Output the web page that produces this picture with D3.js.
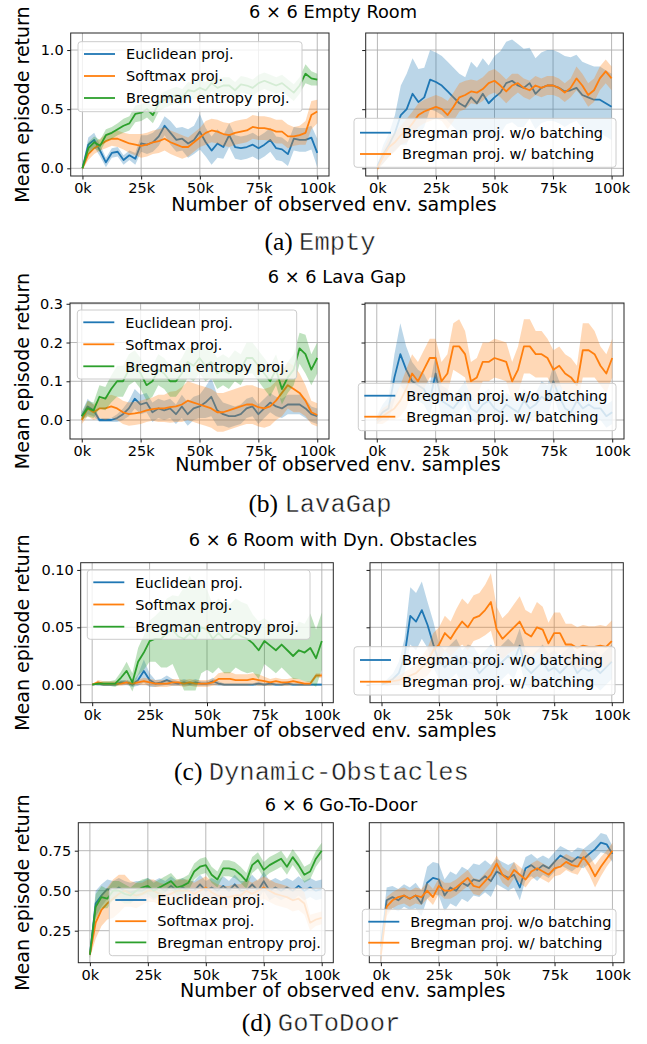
<!DOCTYPE html>
<html>
<head>
<meta charset="utf-8">
<script src="https://cdn.jsdelivr.net/npm/d3@7"></script>
<style>
  body { margin: 0; background: #fff; }
  svg { display: block; }
</style>
</head>
<body>
<svg id="fig" width="647" height="1044"></svg>
<script>
// observed env. samples (k)
var steps = [0, 2.5, 5, 7.5, 10, 12.5, 15, 17.5, 20, 22.5, 25, 27.5, 30, 32.5, 35, 37.5, 40,
  42.5, 45, 47.5, 50, 52.5, 55, 57.5, 60, 62.5, 65, 67.5, 70, 72.5, 75, 77.5, 80, 82.5,
  85, 87.5, 90, 92.5, 95, 97.5, 100];
var xTicks = [0, 25, 50, 75, 100];

var leftNames = ['Euclidean proj.', 'Softmax proj.', 'Bregman entropy proj.'];
var rightNames = ['Bregman proj. w/o batching', 'Bregman proj. w/ batching'];

// (a) Empty
var emptyEuc = [0, 0.2, 0.24, 0.15, 0.05, 0.13, 0.14, 0.07, 0.11, 0.08, 0.21, 0.2, 0.22, 0.27, 0.36, 0.3, 0.24, 0.25, 0.21, 0.24, 0.31, 0.22, 0.15, 0.21, 0.18, 0.28, 0.18, 0.17, 0.18, 0.2, 0.17, 0.2, 0.24, 0.17, 0.16, 0.12, 0.25, 0.24, 0.24, 0.26, 0.13];
var emptyEucSd = [0.02, 0.06, 0.06, 0.05, 0.04, 0.04, 0.04, 0.04, 0.04, 0.05, 0.07, 0.08, 0.08, 0.08, 0.08, 0.1, 0.1, 0.1, 0.12, 0.12, 0.15, 0.12, 0.12, 0.12, 0.1, 0.1, 0.1, 0.1, 0.1, 0.1, 0.1, 0.1, 0.1, 0.1, 0.1, 0.1, 0.1, 0.1, 0.1, 0.1, 0.12];
var emptySoft = [0, 0.12, 0.17, 0.2, 0.23, 0.25, 0.25, 0.23, 0.21, 0.2, 0.19, 0.2, 0.22, 0.23, 0.25, 0.22, 0.2, 0.18, 0.18, 0.22, 0.26, 0.3, 0.32, 0.31, 0.29, 0.28, 0.3, 0.31, 0.32, 0.35, 0.34, 0.34, 0.33, 0.31, 0.31, 0.27, 0.27, 0.28, 0.3, 0.45, 0.48];
var emptySoftSd = [0.01, 0.05, 0.05, 0.05, 0.06, 0.06, 0.07, 0.07, 0.08, 0.09, 0.1, 0.1, 0.1, 0.1, 0.1, 0.1, 0.1, 0.1, 0.08, 0.08, 0.08, 0.1, 0.1, 0.1, 0.1, 0.1, 0.1, 0.1, 0.1, 0.1, 0.1, 0.1, 0.1, 0.1, 0.1, 0.1, 0.08, 0.08, 0.1, 0.12, 0.1];
var emptyBreg = [0, 0.17, 0.22, 0.19, 0.28, 0.3, 0.33, 0.36, 0.38, 0.46, 0.47, 0.5, 0.45, 0.55, 0.58, 0.6, 0.62, 0.6, 0.66, 0.65, 0.68, 0.66, 0.72, 0.68, 0.7, 0.7, 0.66, 0.71, 0.7, 0.68, 0.72, 0.74, 0.72, 0.7, 0.72, 0.68, 0.64, 0.7, 0.8, 0.76, 0.75];
var emptyBregSd = [0.01, 0.05, 0.05, 0.05, 0.05, 0.05, 0.05, 0.06, 0.06, 0.07, 0.07, 0.07, 0.07, 0.07, 0.07, 0.07, 0.07, 0.07, 0.07, 0.07, 0.07, 0.07, 0.07, 0.07, 0.07, 0.07, 0.07, 0.07, 0.07, 0.07, 0.07, 0.07, 0.07, 0.07, 0.07, 0.07, 0.07, 0.07, 0.08, 0.06, 0.05];
var emptyNoBatch = [0.02, 0.12, 0.2, 0.3, 0.45, 0.5, 0.63, 0.56, 0.6, 0.75, 0.73, 0.7, 0.65, 0.6, 0.55, 0.52, 0.6, 0.55, 0.63, 0.55, 0.6, 0.64, 0.72, 0.74, 0.7, 0.68, 0.72, 0.63, 0.68, 0.7, 0.7, 0.68, 0.65, 0.66, 0.68, 0.62, 0.6, 0.58, 0.58, 0.55, 0.52];
var emptyNoBatchSd = [0.02, 0.08, 0.1, 0.15, 0.25, 0.3, 0.3, 0.28, 0.25, 0.25, 0.25, 0.25, 0.25, 0.25, 0.25, 0.25, 0.3, 0.3, 0.3, 0.32, 0.35, 0.35, 0.35, 0.35, 0.35, 0.33, 0.3, 0.3, 0.3, 0.3, 0.3, 0.3, 0.3, 0.28, 0.28, 0.28, 0.28, 0.28, 0.28, 0.28, 0.28];
var emptyBatch = [0, 0.1, 0.18, 0.22, 0.28, 0.32, 0.38, 0.45, 0.48, 0.5, 0.52, 0.5, 0.45, 0.52, 0.6, 0.62, 0.65, 0.64, 0.67, 0.72, 0.74, 0.7, 0.65, 0.7, 0.72, 0.68, 0.66, 0.7, 0.68, 0.7, 0.7, 0.68, 0.64, 0.68, 0.76, 0.7, 0.62, 0.66, 0.76, 0.82, 0.76];
var emptyBatchSd = [0.02, 0.06, 0.08, 0.08, 0.08, 0.1, 0.1, 0.1, 0.1, 0.1, 0.1, 0.1, 0.12, 0.12, 0.12, 0.12, 0.1, 0.1, 0.1, 0.1, 0.1, 0.1, 0.1, 0.1, 0.08, 0.08, 0.08, 0.08, 0.08, 0.08, 0.08, 0.08, 0.08, 0.08, 0.1, 0.1, 0.1, 0.1, 0.1, 0.1, 0.1];

// (b) LavaGap
var lavaEuc = [0.01, 0.035, 0.025, 0, 0, 0, 0.005, 0.015, 0.03, 0.055, 0.04, 0.045, 0.02, 0.03, 0.025, 0.03, 0.015, 0.035, 0.015, 0.03, 0.035, 0.045, 0.06, 0.025, 0.015, 0.01, 0.01, 0.015, 0.03, 0.035, 0.015, 0.03, 0.045, 0.035, 0.03, 0.04, 0.04, 0.04, 0.03, 0.015, 0.01];
var lavaEucSd = [0.01, 0.02, 0.015, 0.005, 0.005, 0.005, 0.01, 0.015, 0.02, 0.025, 0.025, 0.025, 0.025, 0.025, 0.025, 0.025, 0.025, 0.03, 0.03, 0.03, 0.03, 0.04, 0.05, 0.04, 0.03, 0.03, 0.025, 0.025, 0.025, 0.025, 0.025, 0.025, 0.025, 0.025, 0.025, 0.025, 0.025, 0.025, 0.025, 0.02, 0.02];
var lavaSoft = [0, 0.03, 0.02, 0.03, 0.03, 0.035, 0.03, 0.02, 0.015, 0.017, 0.02, 0.025, 0.028, 0.03, 0.03, 0.033, 0.035, 0.04, 0.05, 0.045, 0.04, 0.035, 0.03, 0.02, 0.02, 0.025, 0.03, 0.035, 0.04, 0.04, 0.033, 0.03, 0.035, 0.05, 0.07, 0.09, 0.08, 0.07, 0.05, 0.02, 0.013];
var lavaSoftSd = [0.01, 0.02, 0.02, 0.025, 0.03, 0.03, 0.03, 0.03, 0.03, 0.03, 0.03, 0.03, 0.03, 0.035, 0.035, 0.04, 0.04, 0.045, 0.05, 0.05, 0.05, 0.05, 0.05, 0.05, 0.05, 0.05, 0.05, 0.05, 0.05, 0.05, 0.05, 0.05, 0.05, 0.05, 0.06, 0.06, 0.06, 0.05, 0.04, 0.03, 0.03];
var lavaBreg = [0.01, 0.03, 0.025, 0.06, 0.055, 0.08, 0.1, 0.1, 0.13, 0.14, 0.12, 0.09, 0.1, 0.13, 0.12, 0.1, 0.1, 0.12, 0.15, 0.14, 0.16, 0.14, 0.15, 0.12, 0.13, 0.12, 0.14, 0.13, 0.16, 0.16, 0.14, 0.12, 0.1, 0.13, 0.08, 0.11, 0.13, 0.185, 0.17, 0.13, 0.16];
var lavaBregSd = [0.01, 0.02, 0.02, 0.03, 0.03, 0.035, 0.04, 0.04, 0.04, 0.04, 0.04, 0.04, 0.04, 0.04, 0.04, 0.04, 0.04, 0.04, 0.04, 0.04, 0.04, 0.04, 0.04, 0.04, 0.04, 0.04, 0.04, 0.04, 0.04, 0.04, 0.04, 0.04, 0.04, 0.04, 0.04, 0.04, 0.04, 0.04, 0.05, 0.04, 0.04];
var lavaNoBatch = [0, 0.02, 0.03, 0.11, 0.17, 0.13, 0.1, 0.09, 0.08, 0.05, 0.12, 0.05, 0.04, 0.03, 0.05, 0.07, 0.03, 0.02, 0.04, 0.05, 0.03, 0.02, 0.04, 0.03, 0.02, 0.05, 0.03, 0.04, 0.06, 0.05, 0.1, 0.06, 0.03, 0.02, 0.05, 0.03, 0.04, 0.03, 0.03, 0.01, 0.02];
var lavaNoBatchSd = [0.01, 0.02, 0.03, 0.06, 0.08, 0.06, 0.05, 0.04, 0.04, 0.04, 0.05, 0.04, 0.04, 0.03, 0.03, 0.03, 0.03, 0.03, 0.03, 0.03, 0.03, 0.03, 0.03, 0.03, 0.03, 0.03, 0.03, 0.03, 0.04, 0.04, 0.04, 0.04, 0.03, 0.03, 0.03, 0.03, 0.03, 0.03, 0.03, 0.03, 0.03];
var lavaBatch = [0, 0.01, 0.02, 0.03, 0.05, 0.08, 0.12, 0.1, 0.13, 0.16, 0.16, 0.1, 0.12, 0.19, 0.19, 0.17, 0.1, 0.11, 0.15, 0.15, 0.16, 0.155, 0.15, 0.1, 0.13, 0.19, 0.19, 0.17, 0.17, 0.16, 0.13, 0.14, 0.12, 0.11, 0.09, 0.18, 0.18, 0.17, 0.14, 0.12, 0.16];
var lavaBatchSd = [0.01, 0.02, 0.02, 0.03, 0.04, 0.05, 0.05, 0.05, 0.05, 0.05, 0.05, 0.05, 0.05, 0.06, 0.07, 0.06, 0.05, 0.05, 0.05, 0.05, 0.05, 0.05, 0.05, 0.05, 0.06, 0.07, 0.07, 0.06, 0.06, 0.05, 0.05, 0.05, 0.05, 0.05, 0.05, 0.07, 0.07, 0.06, 0.05, 0.05, 0.05];

// (c) Dynamic-Obstacles
var dynEuc = [0, 0.001, 0, 0, 0, 0.002, 0.002, 0, 0.004, 0.012, 0.004, 0.001, 0.002, 0.004, 0.002, 0.001, 0.002, 0.001, 0.002, 0.001, 0.001, 0.003, 0.001, 0, 0, 0, 0, 0, 0, 0.001, 0, 0.001, 0, 0, 0.001, 0, 0, 0, 0, 0, 0];
var dynEucSd = [0, 0.002, 0.001, 0.001, 0.001, 0.002, 0.002, 0.002, 0.005, 0.01, 0.006, 0.003, 0.003, 0.004, 0.003, 0.002, 0.003, 0.002, 0.003, 0.002, 0.002, 0.003, 0.002, 0.001, 0.001, 0.001, 0.001, 0.001, 0.001, 0.002, 0.001, 0.002, 0.001, 0.001, 0.002, 0.001, 0.001, 0.001, 0.001, 0.001, 0.001];
var dynSoft = [0, 0.002, 0.001, 0.001, 0.001, 0.001, 0.002, 0.001, 0.002, 0.003, 0.002, 0.001, 0.001, 0.001, 0.002, 0.002, 0.001, 0.002, 0.001, 0.001, 0.001, 0.002, 0.005, 0.005, 0.005, 0.004, 0.004, 0.004, 0.005, 0.004, 0.003, 0.002, 0.003, 0.002, 0.002, 0.003, 0.002, 0.001, 0.001, 0.008, 0.008];
var dynSoftSd = [0, 0.002, 0.002, 0.002, 0.002, 0.002, 0.002, 0.002, 0.002, 0.003, 0.003, 0.003, 0.003, 0.003, 0.003, 0.003, 0.003, 0.003, 0.003, 0.003, 0.003, 0.003, 0.005, 0.006, 0.006, 0.005, 0.005, 0.005, 0.005, 0.005, 0.004, 0.003, 0.003, 0.003, 0.003, 0.003, 0.003, 0.002, 0.002, 0.002, 0.002];
var dynBreg = [0, 0.001, 0.001, 0.001, 0.001, 0.006, 0.012, 0.002, 0.02, 0.028, 0.038, 0.04, 0.04, 0.045, 0.048, 0.042, 0.04, 0.045, 0.04, 0.05, 0.048, 0.04, 0.045, 0.04, 0.04, 0.045, 0.042, 0.04, 0.036, 0.03, 0.038, 0.034, 0.03, 0.035, 0.03, 0.025, 0.03, 0.028, 0.032, 0.023, 0.038];
var dynBregSd = [0, 0.001, 0.002, 0.002, 0.003, 0.005, 0.008, 0.008, 0.012, 0.015, 0.018, 0.02, 0.025, 0.03, 0.03, 0.035, 0.045, 0.05, 0.045, 0.04, 0.035, 0.03, 0.03, 0.03, 0.03, 0.03, 0.03, 0.03, 0.025, 0.025, 0.02, 0.02, 0.02, 0.02, 0.02, 0.02, 0.025, 0.025, 0.03, 0.025, 0.025];
var dynNoBatch = [0, 0.002, 0.005, 0.01, 0.025, 0.06, 0.055, 0.065, 0.052, 0.035, 0.02, 0.015, 0.02, 0.025, 0.015, 0.02, 0.018, 0.01, 0.015, 0.02, 0.015, 0.02, 0.025, 0.02, 0.034, 0.015, 0.01, 0.015, 0.02, 0.012, 0.015, 0.01, 0.015, 0.02, 0.01, 0.015, 0.012, 0.015, 0.01, 0.015, 0.02];
var dynNoBatchSd = [0, 0.003, 0.005, 0.01, 0.015, 0.025, 0.025, 0.025, 0.02, 0.02, 0.015, 0.015, 0.015, 0.015, 0.015, 0.015, 0.015, 0.015, 0.015, 0.015, 0.015, 0.015, 0.015, 0.015, 0.015, 0.015, 0.015, 0.015, 0.015, 0.015, 0.015, 0.015, 0.015, 0.015, 0.015, 0.015, 0.015, 0.015, 0.015, 0.015, 0.015];
var dynBatch = [0.002, 0.002, 0.003, 0.004, 0.006, 0.008, 0.01, 0.015, 0.02, 0.03, 0.035, 0.045, 0.04, 0.048, 0.055, 0.05, 0.058, 0.06, 0.065, 0.072, 0.048, 0.04, 0.045, 0.05, 0.055, 0.045, 0.042, 0.05, 0.048, 0.036, 0.045, 0.045, 0.035, 0.035, 0.032, 0.034, 0.033, 0.033, 0.034, 0.033, 0.038];
var dynBatchSd = [0.002, 0.002, 0.003, 0.004, 0.005, 0.006, 0.008, 0.01, 0.012, 0.015, 0.015, 0.015, 0.015, 0.018, 0.02, 0.02, 0.02, 0.02, 0.022, 0.025, 0.02, 0.018, 0.018, 0.02, 0.022, 0.02, 0.02, 0.022, 0.02, 0.018, 0.018, 0.018, 0.018, 0.018, 0.018, 0.018, 0.018, 0.018, 0.018, 0.018, 0.018];

// (d) GoToDoor
var doorEuc = [0.1, 0.42, 0.47, 0.51, 0.5, 0.52, 0.5, 0.49, 0.5, 0.5, 0.52, 0.5, 0.52, 0.5, 0.53, 0.5, 0.52, 0.5, 0.5, 0.54, 0.5, 0.52, 0.5, 0.53, 0.5, 0.54, 0.5, 0.5, 0.54, 0.5, 0.56, 0.5, 0.52, 0.5, 0.52, 0.5, 0.53, 0.5, 0.52, 0.5, 0.51];
var doorEucSd = [0.02, 0.08, 0.07, 0.06, 0.06, 0.06, 0.06, 0.06, 0.06, 0.06, 0.06, 0.06, 0.06, 0.06, 0.06, 0.06, 0.06, 0.06, 0.06, 0.06, 0.06, 0.06, 0.06, 0.06, 0.06, 0.06, 0.06, 0.06, 0.06, 0.06, 0.06, 0.06, 0.06, 0.06, 0.06, 0.06, 0.06, 0.06, 0.06, 0.06, 0.06];
var doorSoft = [0.1, 0.3, 0.38, 0.42, 0.45, 0.48, 0.5, 0.48, 0.47, 0.48, 0.5, 0.5, 0.48, 0.47, 0.48, 0.5, 0.5, 0.5, 0.48, 0.5, 0.52, 0.49, 0.47, 0.46, 0.46, 0.47, 0.47, 0.5, 0.48, 0.5, 0.52, 0.5, 0.48, 0.47, 0.46, 0.44, 0.45, 0.42, 0.3, 0.32, 0.33];
var doorSoftSd = [0.02, 0.1, 0.1, 0.1, 0.12, 0.12, 0.1, 0.08, 0.08, 0.07, 0.07, 0.07, 0.07, 0.07, 0.07, 0.07, 0.07, 0.07, 0.07, 0.07, 0.07, 0.07, 0.07, 0.07, 0.07, 0.07, 0.07, 0.07, 0.07, 0.07, 0.07, 0.07, 0.07, 0.07, 0.07, 0.07, 0.07, 0.07, 0.05, 0.04, 0.04];
var doorBreg = [0.1, 0.4, 0.46, 0.45, 0.5, 0.5, 0.48, 0.47, 0.5, 0.52, 0.53, 0.5, 0.52, 0.54, 0.56, 0.52, 0.53, 0.55, 0.62, 0.65, 0.66, 0.6, 0.57, 0.64, 0.64, 0.63, 0.6, 0.56, 0.66, 0.69, 0.63, 0.66, 0.68, 0.7, 0.65, 0.71, 0.66, 0.6, 0.62, 0.7, 0.75];
var doorBregSd = [0.02, 0.08, 0.07, 0.06, 0.06, 0.06, 0.06, 0.05, 0.05, 0.05, 0.05, 0.05, 0.05, 0.05, 0.05, 0.05, 0.05, 0.05, 0.05, 0.05, 0.05, 0.05, 0.05, 0.05, 0.05, 0.05, 0.05, 0.05, 0.05, 0.05, 0.05, 0.05, 0.05, 0.05, 0.05, 0.05, 0.05, 0.05, 0.05, 0.05, 0.05];
var doorNoBatch = [0.15, 0.44, 0.46, 0.44, 0.47, 0.45, 0.47, 0.42, 0.55, 0.58, 0.57, 0.47, 0.52, 0.5, 0.55, 0.53, 0.57, 0.56, 0.59, 0.56, 0.62, 0.6, 0.58, 0.6, 0.52, 0.64, 0.66, 0.63, 0.66, 0.64, 0.68, 0.72, 0.7, 0.68, 0.71, 0.7, 0.73, 0.76, 0.8, 0.79, 0.73];
var doorNoBatchSd = [0.05, 0.08, 0.07, 0.07, 0.07, 0.07, 0.08, 0.08, 0.1, 0.1, 0.1, 0.1, 0.1, 0.1, 0.1, 0.1, 0.1, 0.1, 0.1, 0.1, 0.08, 0.08, 0.08, 0.08, 0.08, 0.07, 0.07, 0.07, 0.06, 0.06, 0.06, 0.06, 0.06, 0.06, 0.06, 0.06, 0.06, 0.06, 0.06, 0.06, 0.05];
var doorBatch = [0.1, 0.4, 0.44, 0.46, 0.47, 0.45, 0.47, 0.46, 0.5, 0.46, 0.53, 0.5, 0.5, 0.52, 0.55, 0.58, 0.53, 0.52, 0.56, 0.6, 0.67, 0.6, 0.57, 0.63, 0.6, 0.57, 0.62, 0.64, 0.62, 0.6, 0.64, 0.65, 0.68, 0.66, 0.65, 0.71, 0.66, 0.59, 0.65, 0.7, 0.75];
var doorBatchSd = [0.05, 0.06, 0.05, 0.05, 0.05, 0.05, 0.05, 0.05, 0.05, 0.05, 0.05, 0.05, 0.05, 0.05, 0.05, 0.05, 0.05, 0.05, 0.05, 0.05, 0.05, 0.05, 0.05, 0.05, 0.05, 0.05, 0.05, 0.05, 0.05, 0.05, 0.05, 0.05, 0.05, 0.05, 0.05, 0.05, 0.06, 0.07, 0.06, 0.05, 0.05];

var colors = { blue: '#1f77b4', orange: '#ff7f0e', green: '#2ca02c' };

function trio(m1, s1, m2, s2, m3, s3) {
  return [
    { name: leftNames[0], color: colors.blue, mean: m1, sd: s1 },
    { name: leftNames[1], color: colors.orange, mean: m2, sd: s2 },
    { name: leftNames[2], color: colors.green, mean: m3, sd: s3 }
  ];
}
function pair(m1, s1, m2, s2) {
  return [
    { name: rightNames[0], color: colors.blue, mean: m1, sd: s1 },
    { name: rightNames[1], color: colors.orange, mean: m2, sd: s2 }
  ];
}

// layout of the four sub-figures (frame = [left, top, right, bottom])
var rows = [
  {
    title: '6 \u00d7 6 Empty Room', titleX: 333, titleY: 18.3,
    caption: ['(a) ', 'Empty'], capX: 320, capY: 250,
    xlabX: 334, xlabY: 210.5, ylabY: 104.5,
    yDomain: [-0.065, 1.144], yTicks: [0, 0.5, 1.0], yFmt: '.1f',
    left: { frame: [70.7, 33, 329, 176], legend: [78, 41.7, 302, 111.7], ly: 54, dy: 22,
      series: trio(emptyEuc, emptyEucSd, emptySoft, emptySoftSd, emptyBreg, emptyBregSd) },
    right: { frame: [365.7, 33, 623.3, 176], legend: [354, 118.3, 616, 167.3], ly: 132.7, dy: 21.3,
      series: pair(emptyNoBatch, emptyNoBatchSd, emptyBatch, emptyBatchSd) }
  },
  {
    title: '6 \u00d7 6 Lava Gap', titleX: 337, titleY: 283.3,
    caption: ['(b) ', 'LavaGap'], capX: 320, capY: 512,
    xlabX: 338, xlabY: 470.7, ylabY: 371,
    yDomain: [-0.049, 0.302], yTicks: [0, 0.1, 0.2, 0.3], yFmt: '.1f',
    left: { frame: [70, 303, 329, 439], legend: [77.3, 310, 296.7, 379], ly: 322.3, dy: 22,
      series: trio(lavaEuc, lavaEucSd, lavaSoft, lavaSoftSd, lavaBreg, lavaBregSd) },
    right: { frame: [365, 303, 624, 439], legend: [358.3, 383.3, 616, 430.7], ly: 395.7, dy: 21,
      series: pair(lavaNoBatch, lavaNoBatchSd, lavaBatch, lavaBatchSd) }
  },
  {
    title: '6 \u00d7 6 Room with Dyn. Obstacles', titleX: 333, titleY: 546,
    caption: ['(c) ', 'Dynamic-Obstacles'], capX: 321.5, capY: 780,
    xlabX: 333.7, xlabY: 736.7, ylabY: 632.7,
    yDomain: [-0.0157, 0.1063], yTicks: [0, 0.05, 0.1], yFmt: '.2f',
    left: { frame: [80.7, 562.7, 333.3, 702.7], legend: [87.3, 570, 310, 639.3], ly: 582.3, dy: 22.2,
      series: trio(dynEuc, dynEucSd, dynSoft, dynSoftSd, dynBreg, dynBregSd) },
    right: { frame: [370, 562.7, 623.3, 702.7], legend: [354, 646.7, 615, 695], ly: 660, dy: 21.7,
      series: pair(dynNoBatch, dynNoBatchSd, dynBatch, dynBatchSd) }
  },
  {
    title: '6 \u00d7 6 Go-To-Door', titleX: 341, titleY: 810.7,
    caption: ['(d) ', 'GoToDoor'], capX: 321, capY: 1031,
    xlabX: 342.7, xlabY: 996.7, ylabY: 892.7,
    yDomain: [0.05, 0.925], yTicks: [0.25, 0.5, 0.75], yFmt: '.2f',
    left: { frame: [78.3, 822.7, 333.3, 962.7], legend: [109.3, 888.3, 325, 955.7], ly: 900, dy: 21.2,
      series: trio(doorEuc, doorEucSd, doorSoft, doorSoftSd, doorBreg, doorBregSd) },
    right: { frame: [369.3, 822.7, 624, 962.7], legend: [362.3, 909.3, 616, 955.7], ly: 921.7, dy: 21,
      series: pair(doorNoBatch, doorNoBatchSd, doorBatch, doorBatchSd) }
  }
];

var font = '"DejaVu Sans", sans-serif';
var svg = d3.select('#fig');

function drawPanel(id, row, spec, withLabels) {
  var f = spec.frame;
  var x = d3.scaleLinear().domain([-5, 105]).range([f[0], f[2]]);
  var y = d3.scaleLinear().domain(row.yDomain).range([f[3], f[1]]);
  var g = svg.append('g');

  g.append('clipPath').attr('id', id).append('rect')
    .attr('x', f[0]).attr('y', f[1]).attr('width', f[2] - f[0]).attr('height', f[3] - f[1]);

  // grid
  var grid = g.append('g').attr('stroke', '#b0b0b0').attr('stroke-width', 0.9);
  grid.selectAll('line.gx').data(xTicks).join('line').attr('class', 'gx')
    .attr('x1', d => x(d)).attr('x2', d => x(d)).attr('y1', f[1]).attr('y2', f[3]);
  grid.selectAll('line.gy').data(row.yTicks).join('line').attr('class', 'gy')
    .attr('y1', d => y(d)).attr('y2', d => y(d)).attr('x1', f[0]).attr('x2', f[2]);

  // bands and mean curves
  var plot = g.append('g').attr('clip-path', 'url(#' + id + ')');
  var area = d3.area().x(d => x(d.k)).y0(d => y(d.m - d.s)).y1(d => y(d.m + d.s));
  var line = d3.line().x(d => x(d.k)).y(d => y(d.m));
  spec.series.forEach(function (s) {
    var pts = steps.map(function (k, i) { return { k: k, m: s.mean[i], s: s.sd[i] }; });
    plot.append('path').datum(pts).attr('fill', s.color).attr('fill-opacity', 0.3).attr('d', area);
    plot.append('path').datum(pts).attr('fill', 'none').attr('stroke', s.color)
      .attr('stroke-width', 1.8).attr('stroke-linejoin', 'round').attr('d', line);
  });

  // axes
  var ax = g.append('g').attr('transform', 'translate(0,' + f[3] + ')')
    .call(d3.axisBottom(x).tickValues(xTicks).tickFormat(d => d + 'k').tickSize(3.5).tickPadding(3.5));
  ax.select('.domain').remove();
  var ay = g.append('g').attr('transform', 'translate(' + f[0] + ',0)')
    .call(d3.axisLeft(y).tickValues(row.yTicks)
      .tickFormat(withLabels ? d3.format(row.yFmt) : function () { return ''; })
      .tickSize(3.5).tickPadding(3.5));
  ay.select('.domain').remove();
  g.selectAll('.tick text').attr('font-size', 14.5).attr('font-family', font).attr('fill', '#000');
  g.selectAll('.tick line').attr('stroke', '#000').attr('stroke-width', 0.9);

  g.append('rect').attr('x', f[0]).attr('y', f[1]).attr('width', f[2] - f[0]).attr('height', f[3] - f[1])
    .attr('fill', 'none').attr('stroke', '#262626').attr('stroke-width', 1);

  // legend
  var L = spec.legend;
  var lg = g.append('g');
  lg.append('rect').attr('x', L[0]).attr('y', L[1]).attr('width', L[2] - L[0]).attr('height', L[3] - L[1])
    .attr('rx', 3).attr('fill', '#fff').attr('fill-opacity', 0.8).attr('stroke', '#cccccc');
  spec.series.forEach(function (s, i) {
    var yy = spec.ly + i * spec.dy;
    lg.append('line').attr('x1', L[0] + 6).attr('x2', L[0] + 37).attr('y1', yy).attr('y2', yy)
      .attr('stroke', s.color).attr('stroke-width', 1.8);
    lg.append('text').attr('x', L[0] + 48).attr('y', yy).attr('dy', '0.36em')
      .attr('font-family', font).attr('font-size', 14.5).attr('fill', '#000').text(s.name);
  });
}

rows.forEach(function (row, r) {
  drawPanel('clipL' + r, row, row.left, true);
  drawPanel('clipR' + r, row, row.right, false);

  svg.append('text').attr('x', row.titleX).attr('y', row.titleY).attr('text-anchor', 'middle')
    .attr('font-family', font).attr('font-size', 17.8).attr('fill', '#000').text(row.title);

  svg.append('text').attr('x', row.xlabX).attr('y', row.xlabY).attr('text-anchor', 'middle')
    .attr('font-family', font).attr('font-size', 19).attr('fill', '#000')
    .text('Number of observed env. samples');

  svg.append('text').attr('transform', 'translate(28.5,' + row.ylabY + ') rotate(-90)')
    .attr('text-anchor', 'middle').attr('font-family', font).attr('font-size', 19).attr('fill', '#000')
    .text('Mean episode return');

  var cap = svg.append('text').attr('x', row.capX).attr('y', row.capY).attr('text-anchor', 'middle')
    .attr('font-size', 25.5).attr('fill', '#000');
  cap.append('tspan').attr('font-family', '"Liberation Serif", serif').text(row.caption[0]);
  cap.append('tspan').attr('font-family', '"Liberation Mono", monospace')
    .attr('fill', '#1a1a1a').attr('stroke', '#fff').attr('stroke-width', 0.4).text(row.caption[1]);
});
</script>
</body>
</html>
